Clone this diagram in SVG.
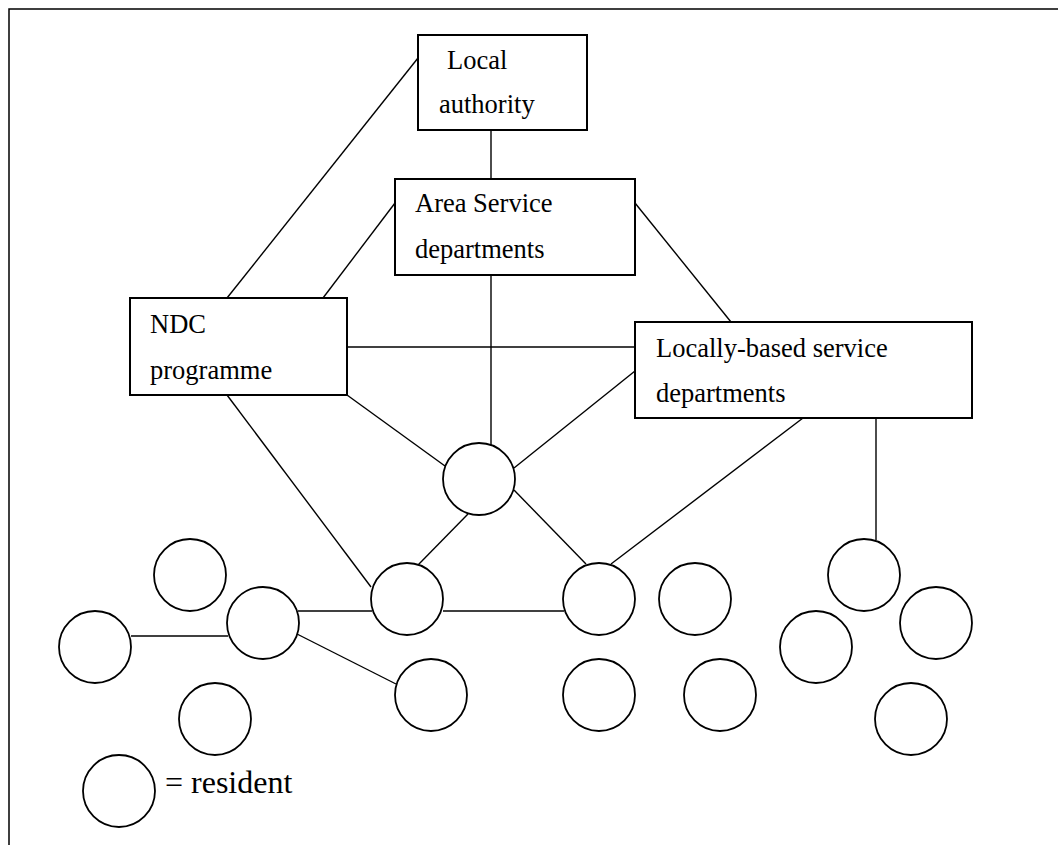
<svg xmlns="http://www.w3.org/2000/svg" width="1058" height="845" viewBox="0 0 1058 845">
<style>
.box{fill:#fff;stroke:#000;stroke-width:2}
.res{fill:#fff;stroke:#000;stroke-width:1.8}
.ln{stroke:#000;stroke-width:1.4;fill:none}
.t{font-family:"Liberation Serif","Times New Roman",serif;font-size:26.5px;fill:#000}
</style>
<rect x="0" y="0" width="1058" height="845" fill="#fff"/>
<path d="M9 845 V9 H1058" fill="none" stroke="#000" stroke-width="1.5"/>
<g id="connectors">
<line class="ln" x1="418" y1="58" x2="227" y2="298"/>
<line class="ln" x1="491" y1="130" x2="491" y2="179"/>
<line class="ln" x1="395" y1="203" x2="323" y2="298"/>
<line class="ln" x1="635" y1="203" x2="731" y2="322"/>
<line class="ln" x1="347" y1="347" x2="635" y2="347"/>
<line class="ln" x1="491" y1="275" x2="491" y2="445"/>
<line class="ln" x1="347" y1="395" x2="445" y2="466"/>
<line class="ln" x1="635" y1="371" x2="514" y2="468"/>
<line class="ln" x1="227" y1="395" x2="371" y2="587"/>
<line class="ln" x1="468" y1="514" x2="418" y2="565"/>
<line class="ln" x1="514" y1="490" x2="586" y2="564"/>
<line class="ln" x1="803" y1="418" x2="611" y2="564"/>
<line class="ln" x1="876" y1="418" x2="876" y2="540"/>
<line class="ln" x1="131" y1="636" x2="228" y2="636"/>
<line class="ln" x1="298" y1="611" x2="372" y2="611"/>
<line class="ln" x1="443" y1="611" x2="564" y2="611"/>
<line class="ln" x1="297" y1="634" x2="396" y2="684"/>
</g>
<g id="local-authority">
<rect class="box" x="418" y="35" width="169" height="95"/>
<text class="t" x="447" y="69">Local</text>
<text class="t" x="439" y="113">authority</text>
</g>
<g id="area-service">
<rect class="box" x="395" y="179" width="240" height="96"/>
<text class="t" x="415" y="212">Area Service</text>
<text class="t" x="415" y="258">departments</text>
</g>
<g id="ndc">
<rect class="box" x="130" y="298" width="217" height="97"/>
<text class="t" x="150" y="333">NDC</text>
<text class="t" x="150" y="379">programme</text>
</g>
<g id="locally-based">
<rect class="box" x="635" y="322" width="337" height="96"/>
<text class="t" x="656" y="357">Locally-based service</text>
<text class="t" x="656" y="402">departments</text>
</g>
<g id="residents">
<circle class="res" cx="479" cy="479" r="36"/>
<circle class="res" cx="190" cy="575" r="36"/>
<circle class="res" cx="263" cy="623" r="36"/>
<circle class="res" cx="95" cy="647" r="36"/>
<circle class="res" cx="407" cy="599" r="36"/>
<circle class="res" cx="599" cy="599" r="36"/>
<circle class="res" cx="695" cy="599" r="36"/>
<circle class="res" cx="864" cy="575" r="36"/>
<circle class="res" cx="936" cy="623" r="36"/>
<circle class="res" cx="816" cy="647" r="36"/>
<circle class="res" cx="431" cy="695" r="36"/>
<circle class="res" cx="599" cy="695" r="36"/>
<circle class="res" cx="720" cy="695" r="36"/>
<circle class="res" cx="215" cy="719" r="36"/>
<circle class="res" cx="911" cy="719" r="36"/>
</g>
<g id="legend">
<circle class="res" cx="119" cy="791" r="36"/>
<text class="t" x="165" y="793" style="font-size:32px">= resident</text>
</g>
</svg>
